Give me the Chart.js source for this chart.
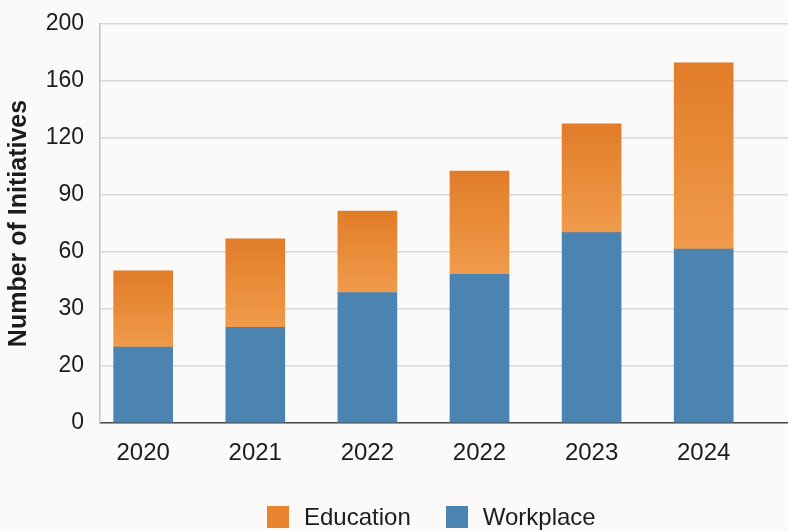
<!DOCTYPE html>
<html>
<head>
<meta charset="utf-8">
<script src="https://cdn.jsdelivr.net/npm/chart.js@4"></script>
<style>
  html, body { margin: 0; padding: 0; background: #fbfaf8; }
  #wrap { position: relative; width: 788px; height: 531px; overflow: hidden; }
  #chart { display: block; }
  .legend {
    position: absolute; left: 267px; top: 503px; height: 28px;
    display: flex; align-items: center;
    font-family: "Liberation Sans", Arial, sans-serif; font-size: 24px; color: #1c1c1c;
  }
  .legend-item { display: flex; align-items: center; }
  .legend-item + .legend-item { margin-left: 35px; }
  .legend-dot { width: 22px; height: 22px; margin-right: 15px; }
</style>
</head>
<body>
<div id="wrap">
  <canvas id="chart" width="788" height="531"></canvas>
  <div class="legend" id="legend"></div>
</div>
<script>
// Initiatives per year, stacked: workplace at the bottom, education on top.
// The y axis runs in evenly spaced grid steps; each step carries the label
// from Y_TICK_LABELS, so the series are given in those step units.
const YEARS = ["2020", "2021", "2022", "2022", "2023", "2024"];
const Y_TICK_LABELS = ["0", "20", "30", "60", "90", "120", "160", "200"];
const WORKPLACE = [1.33, 1.68, 2.29, 2.61, 3.34, 3.05];
const EDUCATION = [1.34, 1.55, 1.43, 1.81, 1.91, 3.27];

const BLUE = "#4b83b1";
const ORANGE = "#e8832f";
const ORANGE_TOP = "#e17c28";
const ORANGE_BOTTOM = "#f09b4b";
const FONT = "'Liberation Sans', Arial, sans-serif";
const TEXT = "#1c1c1c";

// Vertical gradient over each education segment, darker at the top.
function educationFill(context) {
  const chart = context.chart;
  const y = chart.scales && chart.scales.y;
  if (!y || context.type !== "data") return ORANGE_BOTTOM;
  const i = context.dataIndex;
  const top = y.getPixelForValue(WORKPLACE[i] + EDUCATION[i]);
  const base = y.getPixelForValue(WORKPLACE[i]);
  if (!isFinite(top) || !isFinite(base)) return ORANGE_BOTTOM;
  const g = chart.ctx.createLinearGradient(0, top, 0, base);
  g.addColorStop(0, ORANGE_TOP);
  g.addColorStop(1, ORANGE_BOTTOM);
  return g;
}

const points = (values) => values.map((v, i) => ({ x: i, y: v }));

new Chart(document.getElementById("chart"), {
  type: "bar",
  data: {
    datasets: [
      { label: "Workplace", data: points(WORKPLACE), backgroundColor: BLUE, borderWidth: 0, barThickness: 59 },
      { label: "Education", data: points(EDUCATION), backgroundColor: educationFill, borderWidth: 0, barThickness: 59 }
    ]
  },
  options: {
    responsive: false,
    animation: false,
    layout: { padding: { top: 24, right: 0, bottom: 58, left: 0 } },
    scales: {
      x: {
        type: "linear",
        stacked: true,
        offset: false,
        min: -0.385,
        max: 5.752,
        afterBuildTicks: (axis) => { axis.ticks = YEARS.map((_, i) => ({ value: i })); },
        afterFit: (axis) => { axis.height = 50; },
        grid: { display: false, offset: false },
        border: { display: true, color: "#4a4a4a", width: 1.5 },
        ticks: {
          padding: 8,
          color: TEXT,
          font: { family: FONT, size: 24 },
          maxRotation: 0,
          autoSkip: false,
          callback: (value) => YEARS[value]
        }
      },
      y: {
        stacked: true,
        min: 0,
        max: Y_TICK_LABELS.length - 1,
        afterFit: (axis) => {
          axis.width = 100;
          axis.paddingTop = 0;
          axis.paddingBottom = 0;
        },
        grid: { color: "#d8d8d8", lineWidth: 1.5, drawTicks: false },
        border: { display: true, color: "#c4c4c4", width: 1.5 },
        ticks: {
          stepSize: 1,
          padding: 16,
          color: TEXT,
          font: { family: FONT, size: 23 },
          callback: (value) => Y_TICK_LABELS[value]
        },
        title: {
          display: true,
          text: "Number of Initiatives",
          color: TEXT,
          font: { family: FONT, size: 25, weight: "bold" },
          padding: { top: 4, bottom: 0 }
        }
      }
    },
    plugins: {
      legend: { display: false },
      tooltip: { enabled: false }
    }
  }
});

// Legend under the plot: coloured square + label.
const legend = document.getElementById("legend");
[["Education", ORANGE], ["Workplace", BLUE]].forEach(([label, color]) => {
  const item = document.createElement("span");
  item.className = "legend-item";
  const dot = document.createElement("span");
  dot.className = "legend-dot";
  dot.style.background = color;
  const text = document.createElement("span");
  text.textContent = label;
  item.appendChild(dot);
  item.appendChild(text);
  legend.appendChild(item);
});
</script>
</body>
</html>
